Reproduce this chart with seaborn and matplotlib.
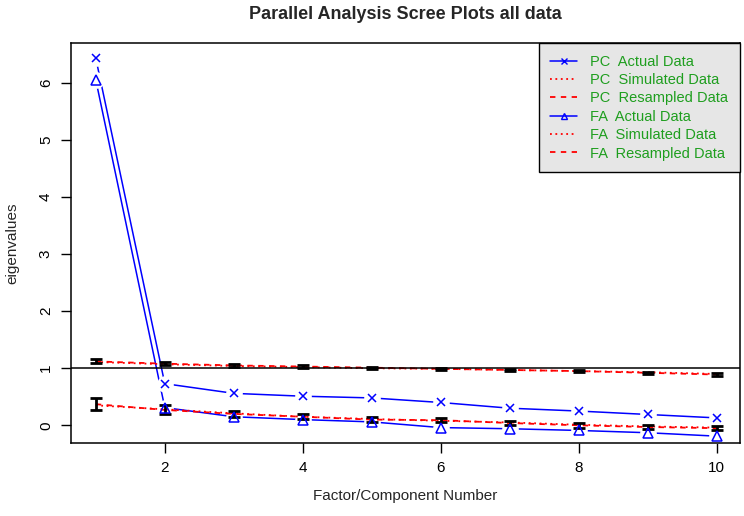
import numpy as np
import pandas as pd
import matplotlib
import matplotlib.pyplot as plt
from matplotlib.lines import Line2D
import seaborn as sns

matplotlib.use('Agg')

factor_no = [1, 2, 3, 4, 5, 6, 7, 8, 9, 10]
pc_actual = [6.43, 0.73, 0.56, 0.51, 0.48, 0.40, 0.30, 0.25, 0.19, 0.13]
pc_simulated = [1.11, 1.07, 1.04, 1.02, 1.00, 0.99, 0.97, 0.95, 0.93, 0.90]
pc_resampled = [1.12, 1.08, 1.05, 1.03, 1.01, 0.99, 0.97, 0.95, 0.92, 0.89]
pc_err = [0.035, 0.025, 0.02, 0.02, 0.015, 0.015, 0.02, 0.02, 0.02, 0.025]
fa_actual = [6.05, 0.31, 0.15, 0.10, 0.06, -0.04, -0.06, -0.09, -0.13, -0.19]
fa_simulated = [0.35, 0.28, 0.21, 0.15, 0.11, 0.08, 0.05, 0.01, -0.02, -0.04]
fa_resampled = [0.37, 0.27, 0.20, 0.15, 0.10, 0.09, 0.04, 0.00, -0.03, -0.05]
fa_err = [0.11, 0.08, 0.05, 0.04, 0.04, 0.04, 0.04, 0.04, 0.04, 0.04]

df = pd.DataFrame({"n": factor_no, "pc_act": pc_actual, "pc_sim": pc_simulated,
                   "pc_res": pc_resampled, "fa_act": fa_actual,
                   "fa_sim": fa_simulated, "fa_res": fa_resampled})

sns.set_style("white")
plt.rcParams['font.family'] = ['Liberation Sans', 'DejaVu Sans']

blue = "#0000FF"
red = "#FF0000"
green = "#1E9E1E"

fig = plt.figure(figsize=(7.44, 5.16), dpi=100)
ax = fig.add_axes([71 / 744, 73 / 516, 669 / 744, 400 / 516])

# blue lines with gaps around the points (R type="b")
for col, mk, ms in [("pc_act", "x", 6), ("fa_act", "^", 7)]:
    sns.lineplot(data=df, x="n", y=col, color=blue, lw=1.1, ax=ax, zorder=2)
    ax.plot(df["n"], df[col], ls="none", marker="o", ms=12, mfc="white",
            mec="none", zorder=2.5)
    ax.plot(df["n"], df[col], ls="none", marker=mk, ms=ms, mfc="none",
            mec=blue, mew=1.1, zorder=5)

sns.lineplot(data=df, x="n", y="pc_sim", color=red, lw=1.3, ax=ax, zorder=3,
             linestyle=(0, (1, 2)))
sns.lineplot(data=df, x="n", y="pc_res", color=red, lw=1.3, ax=ax, zorder=3,
             linestyle=(0, (3, 3)))
sns.lineplot(data=df, x="n", y="fa_sim", color=red, lw=1.3, ax=ax, zorder=3,
             linestyle=(0, (1, 2)))
sns.lineplot(data=df, x="n", y="fa_res", color=red, lw=1.3, ax=ax, zorder=3,
             linestyle=(0, (3, 3)))

ax.errorbar(df["n"], df["pc_res"], yerr=pc_err, fmt="none", ecolor="black",
            elinewidth=2, capsize=4, capthick=2, zorder=4)
ax.errorbar(df["n"], df["fa_res"], yerr=fa_err, fmt="none", ecolor="black",
            elinewidth=2, capsize=4, capthick=2, zorder=4)

ax.axhline(1, color="black", lw=1.1, zorder=3.5)

ax.set_xlim(0.64, 10.34)
ax.set_ylim(-0.31, 6.70)
ax.set_xticks([2, 4, 6, 8, 10])
ax.set_yticks([0, 1, 2, 3, 4, 5, 6])
ax.tick_params(direction="out", length=7, width=1, colors="black",
               labelsize=11, pad=6, bottom=True, left=True)
for lab in ax.get_yticklabels():
    lab.set_rotation(90)
    lab.set_va("center")
for s in ax.spines.values():
    s.set_color("black")
    s.set_linewidth(1.1)

ax.set_xlabel("Factor/Component Number", fontsize=11, labelpad=10)
ax.set_ylabel("eigenvalues", fontsize=11, labelpad=14)
ax.set_title("Parallel Analysis Scree Plots all data", fontsize=13,
             fontweight="bold", pad=17)

handles = [
    Line2D([], [], color=blue, lw=1.1, marker="x", ms=5),
    Line2D([], [], color=red, lw=1.3, ls=(0, (1, 2))),
    Line2D([], [], color=red, lw=1.3, ls=(0, (3, 3))),
    Line2D([], [], color=blue, lw=1.1, marker="^", ms=5, mfc="none"),
    Line2D([], [], color=red, lw=1.3, ls=(0, (1, 2))),
    Line2D([], [], color=red, lw=1.3, ls=(0, (3, 3))),
]
labels = ["PC  Actual Data", "PC  Simulated Data", "PC  Resampled Data",
          "FA  Actual Data", "FA  Simulated Data", "FA  Resampled Data"]
leg = ax.legend(handles, labels, loc="upper right", borderaxespad=0,
                fontsize=10.5, frameon=True, fancybox=False, labelspacing=0.3,
                handlelength=1.85, handletextpad=0.9, borderpad=0.8)
leg.get_frame().set_facecolor("#E6E6E6")
leg.get_frame().set_edgecolor("black")
leg.get_frame().set_alpha(1)
for t in leg.get_texts():
    t.set_color(green)

fig.savefig("out.png", dpi=100)
